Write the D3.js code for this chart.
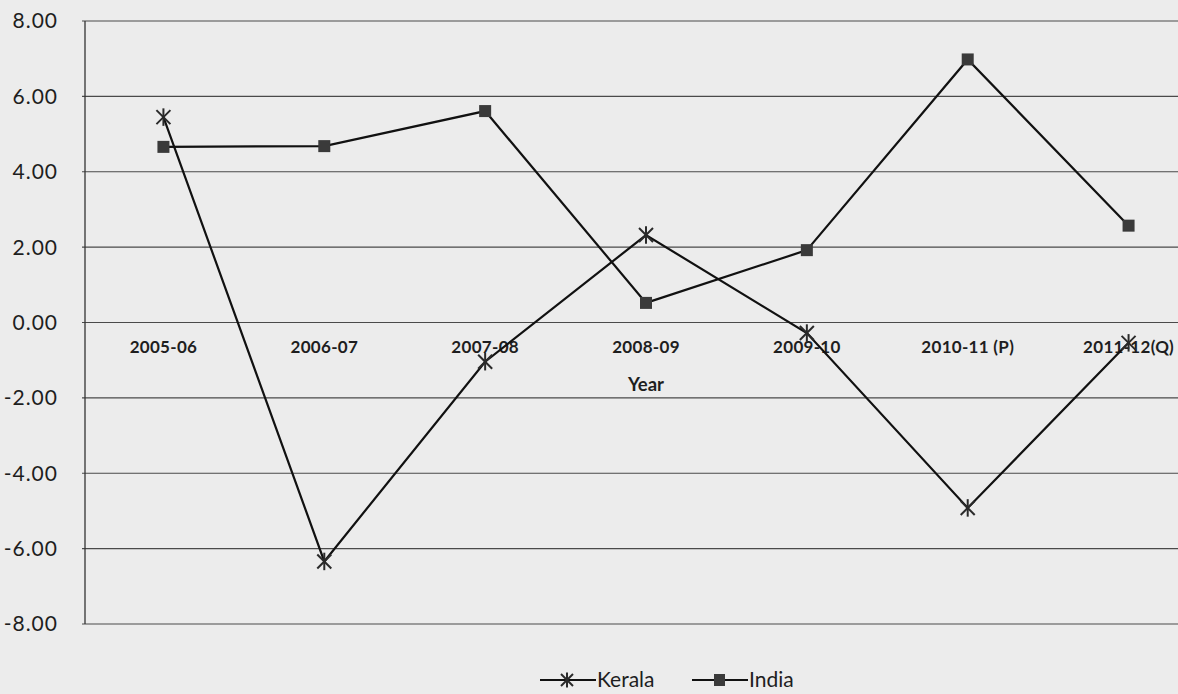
<!DOCTYPE html>
<html>
<head>
<meta charset="utf-8">
<script src="https://cdn.jsdelivr.net/npm/d3@7"></script>
<style>
  html, body { margin: 0; padding: 0; background: #ececec; overflow: hidden; }
  svg { display: block; }
  text { font-family: Lato, "Open Sans", sans-serif; fill: #1e1e1e; }
</style>
</head>
<body>
<svg id="chart" width="1178" height="694"></svg>
<script>
const categories = ["2005-06", "2006-07", "2007-08", "2008-09", "2009-10", "2010-11 (P)", "2011-12(Q)"];
const kerala = [5.45, -6.34, -1.04, 2.32, -0.28, -4.92, -0.54];
const india = [4.66, 4.68, 5.61, 0.52, 1.92, 6.98, 2.57];
const yTicks = [8, 6, 4, 2, 0, -2, -4, -6, -8];
const seriesNames = ["Kerala", "India"];

const svg = d3.select("#chart");
const plot = { left: 84, right: 1209, top: 21, bottom: 624 };

const x = d3.scaleBand().domain(categories).range([plot.left - 1, plot.right]);
const y = d3.scaleLinear().domain([-8, 8]).range([plot.bottom, plot.top]);
const cx = d => x(d) + x.bandwidth() / 2;

// gridlines
svg.append("g").selectAll("line").data(yTicks).join("line")
  .attr("x1", plot.left - 2).attr("x2", 1178)
  .attr("y1", d => y(d)).attr("y2", d => y(d))
  .attr("stroke", "#4a4a4a").attr("stroke-width", 1.1);

// vertical axis line
svg.append("line")
  .attr("x1", plot.left + 1).attr("x2", plot.left + 1)
  .attr("y1", y(8)).attr("y2", y(-8))
  .attr("stroke", "#333").attr("stroke-width", 1.3);

// y tick labels
const yAxis = d3.axisLeft(y).tickValues(yTicks).tickFormat(d => d.toFixed(2)).tickSize(0).tickPadding(0);
const yg = svg.append("g").attr("transform", `translate(58,0)`).call(yAxis);
yg.select(".domain").remove();
yg.selectAll("text").attr("font-size", 21).attr("letter-spacing", 1)
  .attr("font-family", "Lato, sans-serif").attr("fill", "#1e1e1e").attr("dy", "0.33em");

// x labels near zero line
const xAxis = d3.axisBottom(x).tickSize(0).tickPadding(0);
const xg = svg.append("g").attr("transform", `translate(0,${y(0) + 25})`).call(xAxis);
xg.select(".domain").remove();
xg.selectAll("text").attr("font-size", 17).attr("letter-spacing", 0.3).attr("font-weight", "bold")
  .attr("font-family", "Lato, sans-serif").attr("fill", "#222").attr("dy", "0.3em");

svg.append("text").attr("x", cx("2008-09")).attr("y", y(0) + 68)
  .attr("text-anchor", "middle").attr("font-size", 18.5).attr("font-weight", "bold").text("Year");

// lines
const line = d3.line().x((d, i) => cx(categories[i])).y(d => y(d));
svg.append("path").datum(india).attr("d", line).attr("fill", "none").attr("stroke", "#111").attr("stroke-width", 2.2);
svg.append("path").datum(kerala).attr("d", line).attr("fill", "none").attr("stroke", "#111").attr("stroke-width", 2.2);

function star(g, s) {
  g.append("line").attr("x1", -s).attr("y1", -s).attr("x2", s).attr("y2", s);
  g.append("line").attr("x1", -s).attr("y1", s).attr("x2", s).attr("y2", -s);
  g.append("line").attr("x1", 0).attr("y1", -s * 1.25).attr("x2", 0).attr("y2", s * 1.25);
  g.selectAll("line").attr("stroke", "#2a2a2a").attr("stroke-width", 2);
}

// India markers
svg.append("g").selectAll("rect").data(india).join("rect")
  .attr("x", (d, i) => cx(categories[i]) - 6).attr("y", d => y(d) - 6)
  .attr("width", 12).attr("height", 12).attr("fill", "#3a3a3a");

// Kerala markers
svg.append("g").selectAll("g").data(kerala).join("g")
  .attr("transform", (d, i) => `translate(${cx(categories[i])},${y(d)})`)
  .each(function() { star(d3.select(this), 7); });

// legend
const lg = svg.append("g");
const lx = [540, 692];
seriesNames.forEach((name, i) => {
  const g = lg.append("g").attr("transform", `translate(${lx[i]},680)`);
  g.append("line").attr("x1", 0).attr("x2", 56).attr("stroke", "#111").attr("stroke-width", 2);
  if (i === 0) {
    const m = g.append("g").attr("transform", "translate(27,0)");
    star(m, 6);
  } else {
    g.append("rect").attr("x", 22).attr("y", -6).attr("width", 11).attr("height", 12).attr("fill", "#3a3a3a");
  }
  g.append("text").attr("x", 57).attr("y", 0).attr("dy", "0.35em").attr("font-size", 21).text(name);
});
</script>
</body>
</html>
